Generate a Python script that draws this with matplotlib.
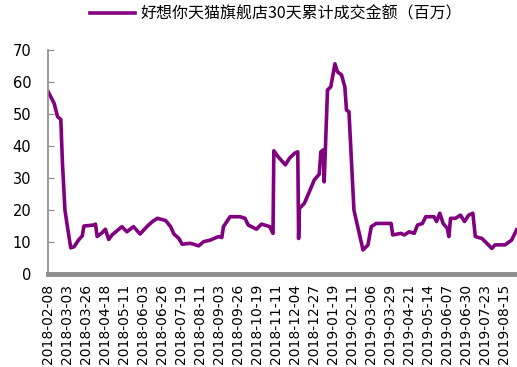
import pandas as pd
import matplotlib.pyplot as plt

plt.rcParams['font.family'] = ['DejaVu Sans']

# 日期轴 (每日一个类别, 2019-05-31 缺失)
dias = pd.date_range('2018-02-08', '2019-08-30')
dias = dias.drop(pd.Timestamp('2019-05-31'))

# 数值 (百万)
fechas = [
    '2018-02-08', '2018-02-15', '2018-02-19', '2018-02-23', '2018-02-25', '2018-02-28',
    '2018-03-03', '2018-03-07', '2018-03-11', '2018-03-17', '2018-03-21', '2018-03-23',
    '2018-04-04', '2018-04-06', '2018-04-08', '2018-04-14', '2018-04-18', '2018-04-22',
    '2018-04-26', '2018-05-08', '2018-05-14', '2018-05-22', '2018-05-30', '2018-06-08',
    '2018-06-14', '2018-06-20', '2018-06-30', '2018-07-06', '2018-07-10', '2018-07-16',
    '2018-07-20', '2018-07-30', '2018-08-09', '2018-08-15', '2018-08-23', '2018-09-02',
    '2018-09-06', '2018-09-08', '2018-09-16', '2018-09-28', '2018-10-04', '2018-10-08',
    '2018-10-18', '2018-10-24', '2018-11-03', '2018-11-07', '2018-11-08', '2018-11-13',
    '2018-11-22', '2018-11-27', '2018-12-03', '2018-12-07', '2018-12-08', '2018-12-09',
    '2018-12-15', '2018-12-21', '2018-12-27', '2019-01-02', '2019-01-04', '2019-01-07',
    '2019-01-08', '2019-01-12', '2019-01-16', '2019-01-21', '2019-01-24', '2019-01-29',
    '2019-02-02', '2019-02-04', '2019-02-07', '2019-02-13', '2019-02-24', '2019-03-02',
    '2019-03-06', '2019-03-12', '2019-03-30', '2019-04-01', '2019-04-11', '2019-04-15',
    '2019-04-21', '2019-04-27', '2019-05-01', '2019-05-07', '2019-05-11', '2019-05-21',
    '2019-05-24', '2019-05-28', '2019-06-02', '2019-06-07', '2019-06-09', '2019-06-11',
    '2019-06-17', '2019-06-23', '2019-06-28', '2019-07-03', '2019-07-08', '2019-07-11',
    '2019-07-19', '2019-07-25', '2019-07-31', '2019-08-04', '2019-08-16', '2019-08-24',
    '2019-08-30',
]
ventas = [
    56.8, 53.3, 49.2, 48.3, 34.7, 20.0,
    14.8, 8.2, 8.5, 10.8, 11.9, 15.0,
    15.3, 15.6, 11.7, 12.9, 14.0, 10.8,
    12.2, 14.8, 13.2, 14.8, 12.5, 15.0,
    16.4, 17.4, 16.7, 14.8, 12.5, 11.1,
    9.3, 9.6, 8.8, 10.1, 10.6, 11.7,
    11.4, 14.8, 17.9, 17.9, 17.4, 15.3,
    14.0, 15.6, 14.8, 12.7, 38.5, 36.7,
    34.1, 36.2, 37.7, 38.2, 11.1, 20.5,
    22.1, 25.7, 29.4, 31.2, 38.2, 38.8,
    28.8, 57.5, 58.5, 65.7, 63.2, 62.2,
    58.5, 51.2, 50.7, 20.0, 7.5, 9.1,
    14.8, 15.8, 15.8, 12.2, 12.7, 12.2,
    13.2, 12.7, 15.3, 15.8, 17.9, 17.9,
    16.4, 19.0, 15.8, 14.3, 11.7, 17.4,
    17.4, 18.4, 16.4, 18.4, 19.0, 11.7,
    11.1, 9.6, 8.0, 9.1, 9.1, 10.6,
    13.8,
]
etiqueta = '好想你天猫旗舰店30天累计成交金额（百万）'

pos = [dias.get_loc(pd.Timestamp(f)) for f in fechas]
ticks = list(range(0, len(dias), 23))
tick_labels = [dias[i].strftime('%Y-%m-%d') for i in ticks]

fig = plt.figure(figsize=(5.17, 3.67), dpi=100)
ax = fig.add_axes([48 / 517, 93 / 367, 469 / 517, 224 / 367])

ax.plot(pos, ventas, color='#800080', linewidth=2.6, label=etiqueta)

ax.set_xlim(-0.5, len(dias) - 0.5)
ax.set_ylim(0, 70)
ax.set_yticks(range(0, 71, 10))
ax.set_xticks(ticks)
ax.set_xticklabels(tick_labels, rotation=90, fontsize=10)

ax.tick_params(axis='y', direction='in', length=4, color='#888888', labelsize=10.5, pad=12)
ax.tick_params(axis='x', length=0, pad=7)

for lado in ['top', 'right']:
    ax.spines[lado].set_visible(False)
ax.spines['left'].set_color('#8a8a8a')
ax.spines['left'].set_linewidth(1.2)
ax.spines['bottom'].set_color('#8c8c8c')
ax.spines['bottom'].set_linewidth(3.5)

fig.legend(loc='center', bbox_to_anchor=(0.534, 0.962), frameon=False,
           handlelength=2.8, handletextpad=0.35,
           prop={'family': ['Noto Sans CJK SC', 'DejaVu Sans'], 'size': 11.5})

fig.savefig('out.png', dpi=100)
